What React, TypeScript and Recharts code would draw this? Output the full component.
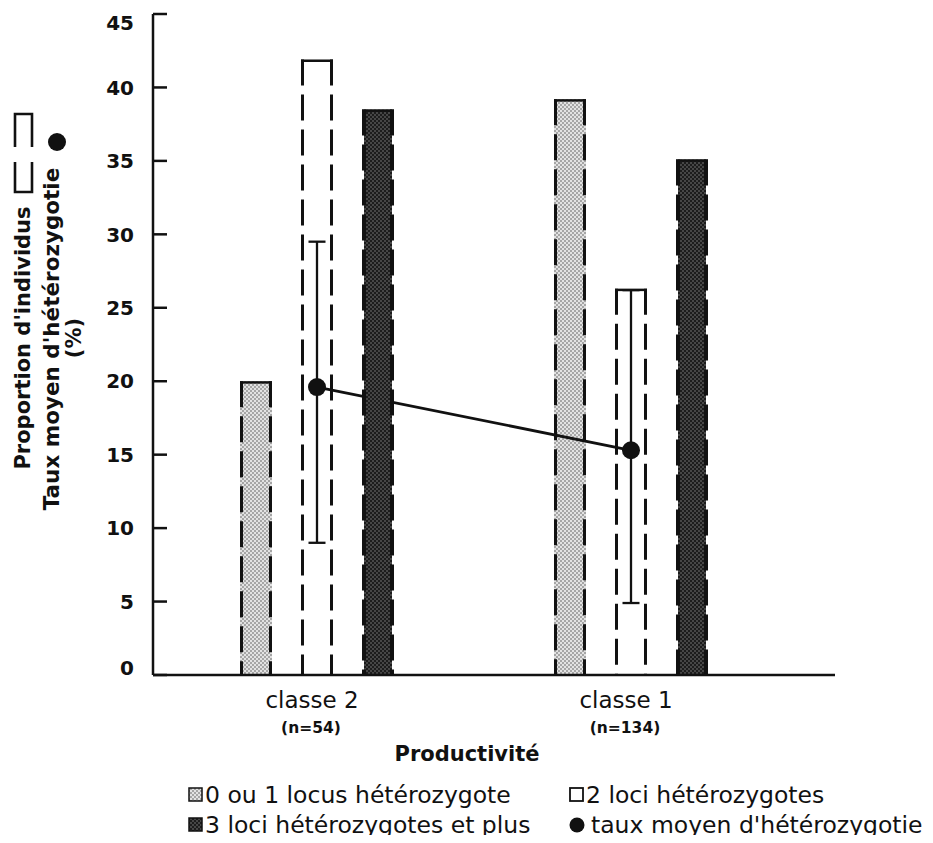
import {
  Bar,
  ComposedChart,
  ErrorBar,
  Label,
  Line,
  XAxis,
  YAxis,
} from "recharts";

const categories = ["classe 2", "classe 1"];
const sampleSizes = ["(n=54)", "(n=134)"];
const oneLocus = [20.0, 39.2];
const twoLoci = [41.9, 26.3];
const threePlus = [38.5, 35.1];
const meanHet = [19.6, 15.3];
const meanErr = [
  [10.6, 9.9],
  [10.4, 10.9],
];
const yTicks = [0, 5, 10, 15, 20, 25, 30, 35, 40, 45];

const data = categories.map((name, i) => ({
  name,
  n: sampleSizes[i],
  one: oneLocus[i],
  two: twoLoci[i],
  three: threePlus[i],
  mean: meanHet[i],
  err: meanErr[i],
}));

const FONT = "'DejaVu Sans', sans-serif";
const INK = "#111";
const DASH = "26 9";

function barShape(fill: string, inset: number, sideWidth: number) {
  return (props: any) => {
    const { x, y, width, height } = props;
    if (!height || height <= 0) return <g />;
    const l = x + sideWidth / 2;
    const r = x + width - sideWidth / 2;
    return (
      <g>
        <rect x={x + inset} y={y} width={width - 2 * inset} height={height} fill={fill} />
        <line x1={l} y1={y} x2={l} y2={y + height} stroke={INK} strokeWidth={sideWidth} strokeDasharray={DASH} />
        <line x1={r} y1={y} x2={r} y2={y + height} stroke={INK} strokeWidth={sideWidth} strokeDasharray={DASH} />
        <line x1={x} y1={y + 1.2} x2={x + width} y2={y + 1.2} stroke={INK} strokeWidth={2.5} />
      </g>
    );
  };
}

function YTick({ x, y, payload }: any) {
  const shift = payload.value === 45 ? 9 : payload.value === 0 ? -7 : 0;
  return (
    <text
      x={x}
      y={y + shift}
      dy="0.36em"
      textAnchor="end"
      fontFamily={FONT}
      fontSize={20}
      fontWeight="bold"
      fill={INK}
    >
      {payload.value}
    </text>
  );
}

function XTick({ x, y, index }: any) {
  return (
    <g fontFamily={FONT} fill={INK}>
      <text x={x - 5} y={y + 33} textAnchor="middle" fontSize={23}>
        {categories[index]}
      </text>
      <text x={x - 6} y={y + 58} textAnchor="middle" fontSize={15.5} fontWeight="bold">
        {sampleSizes[index]}
      </text>
    </g>
  );
}

function YTitle() {
  return (
    <g fontFamily={FONT} fontWeight="bold" fill={INK}>
      <text
        transform="translate(15,330) rotate(-90)"
        textAnchor="middle"
        dominantBaseline="central"
        fontSize={21}
      >
        Proportion d'individus
      </text>
      <path
        d="M7,139 V106 H24 V139 M7,154 V184 H24 V154"
        fill="none"
        stroke={INK}
        strokeWidth={2.6}
      />
      <text
        transform="translate(43,331) rotate(-90)"
        textAnchor="middle"
        dominantBaseline="central"
        fontSize={21.5}
      >
        Taux moyen d'hétérozygotie
      </text>
      <circle cx={49} cy={134} r={9} fill={INK} />
      <text
        transform="translate(66,330) rotate(-90)"
        textAnchor="middle"
        dominantBaseline="central"
        fontSize={21}
      >
        (%)
      </text>
    </g>
  );
}

function XTitle() {
  return (
    <text x={459} y={753} textAnchor="middle" fontFamily={FONT} fontSize={21} fontWeight="bold" fill={INK}>
      Productivité
    </text>
  );
}

function Patterns({ prefix }: { prefix: string }) {
  return (
    <defs>
      <pattern id={`${prefix}light`} width={4} height={4} patternUnits="userSpaceOnUse">
        <rect width={4} height={4} fill="#e2e2e2" />
        <circle cx={1} cy={1} r={0.95} fill="#8c8c8c" />
        <circle cx={3} cy={3} r={0.95} fill="#8c8c8c" />
      </pattern>
      <pattern id={`${prefix}dark`} width={4} height={4} patternUnits="userSpaceOnUse">
        <rect width={4} height={4} fill="#1c1c1c" />
        <circle cx={1} cy={1} r={0.8} fill="#7a7a7a" />
        <circle cx={3} cy={3} r={0.8} fill="#7a7a7a" />
      </pattern>
    </defs>
  );
}

const legendItems = [
  { label: "0 ou 1 locus hétérozygote", left: 180, top: 787, icon: "light" },
  { label: "2 loci hétérozygotes", left: 561, top: 787, icon: "white" },
  { label: "3 loci hétérozygotes et plus", left: 180, top: 817, icon: "dark" },
  { label: "taux moyen d'hétérozygotie", left: 561, top: 817, icon: "dot" },
];

function LegendIcon({ kind }: { kind: string }) {
  if (kind === "dot") {
    return (
      <svg width={22} height={18}>
        <circle cx={8} cy={9} r={7.5} fill={INK} />
      </svg>
    );
  }
  const fill = kind === "light" ? "url(#lgdlight)" : kind === "dark" ? "url(#lgddark)" : "#fff";
  return (
    <svg width={17} height={18}>
      <rect x={1} y={2} width={13} height={13} fill={fill} stroke={INK} strokeWidth={kind === "white" ? 1.8 : 1.5} />
    </svg>
  );
}

export default function App() {
  return (
    <div style={{ position: "relative", width: 917, height: 827 }}>
      <ComposedChart
        width={917}
        height={827}
        data={data}
        margin={{ top: 6, right: 90, bottom: 130, left: 65 }}
        barSize={32}
        barGap={29}
      >
        <Patterns prefix="c" />
        <XAxis
          dataKey="name"
          axisLine={{ stroke: INK, strokeWidth: 2.5 }}
          tickLine={false}
          tickSize={0}
          tickMargin={0}
          padding={{ left: 7, right: 47 }}
          tick={<XTick />}
          interval={0}
          height={30}
        >
          <Label content={<XTitle />} />
        </XAxis>
        <YAxis
          type="number"
          domain={[0, 45]}
          ticks={yTicks}
          interval={0}
          width={80}
          axisLine={{ stroke: INK, strokeWidth: 2.5 }}
          tickLine={{ stroke: INK, strokeWidth: 2.5 }}
          tickSize={-14}
          tickMargin={33}
          tick={<YTick />}
        >
          <Label content={<YTitle />} />
        </YAxis>
        <Bar dataKey="one" isAnimationActive={false} shape={barShape("url(#clight)", 0, 3)} />
        <Bar dataKey="two" isAnimationActive={false} shape={barShape("#fff", 0, 3)} />
        <Line
          dataKey="mean"
          stroke={INK}
          strokeWidth={2.8}
          dot={{ r: 9, fill: INK, stroke: INK, strokeWidth: 0 }}
          activeDot={false}
          isAnimationActive={false}
        >
          <ErrorBar dataKey="err" width={8.5} stroke={INK} strokeWidth={2.3} direction="y" isAnimationActive={false} />
        </Line>
        <Bar dataKey="three" isAnimationActive={false} zIndex={450} shape={barShape("url(#cdark)", 2, 4)} />
      </ComposedChart>
      <svg width={0} height={0} style={{ position: "absolute", left: 0, top: 0 }}>
        <Patterns prefix="lgd" />
      </svg>
      {legendItems.map((it) => (
        <div
          key={it.label}
          style={{
            position: "absolute",
            left: it.left,
            top: it.top - 12,
            height: 24,
            display: "flex",
            alignItems: "center",
            fontFamily: FONT,
            fontSize: 23.5,
            lineHeight: "24px",
            color: INK,
            whiteSpace: "nowrap",
          }}
        >
          <LegendIcon kind={it.icon} />
          <span>{it.label}</span>
        </div>
      ))}
    </div>
  );
}
